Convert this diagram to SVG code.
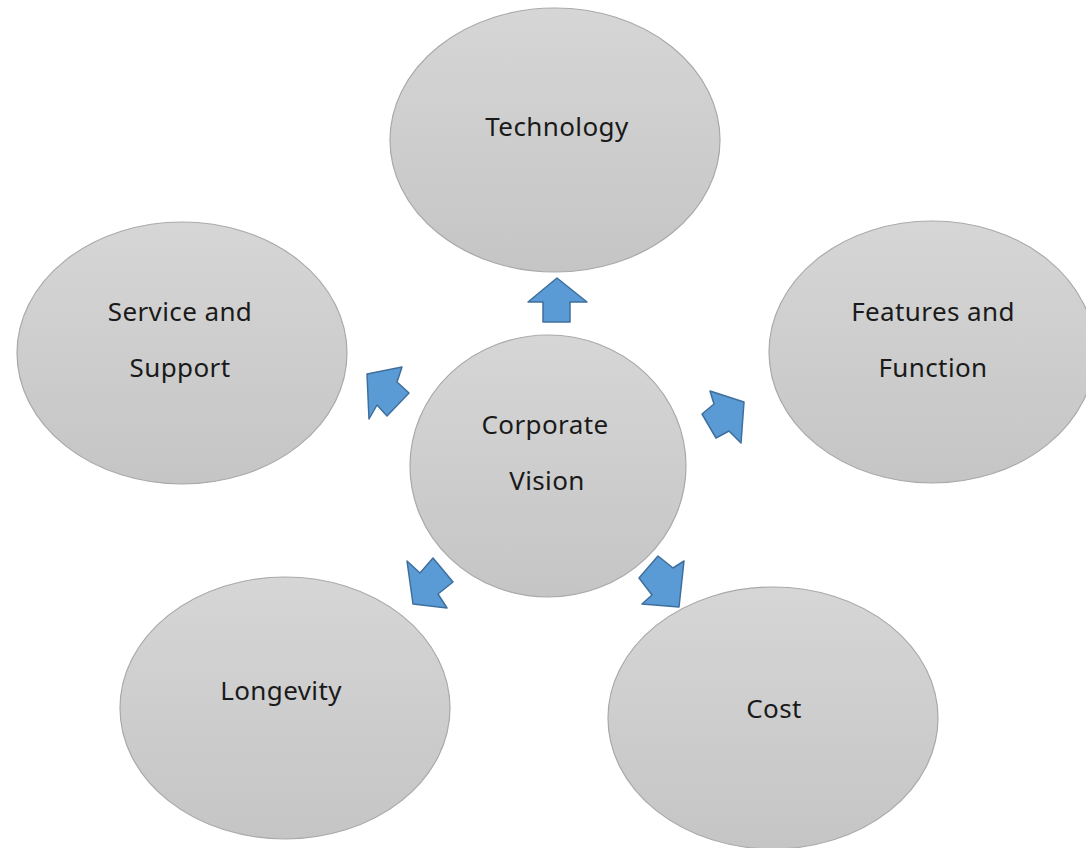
<svg xmlns="http://www.w3.org/2000/svg" width="1086" height="848" viewBox="0 0 1086 848">
<defs>
<linearGradient id="g" x1="0" y1="0" x2="0" y2="1">
<stop offset="0" stop-color="#d6d6d6"/>
<stop offset="1" stop-color="#c5c5c5"/>
</linearGradient>
<style>
.n{fill:url(#g);stroke:#a9a9a9;stroke-width:1.2}
.t{font-family:"Noto Sans","Open Sans",sans-serif;font-size:26px;letter-spacing:0.4px;fill:#1a1a1a;text-anchor:middle}
.a{fill:#5b9bd5;stroke:#3f6f9c;stroke-width:1.5;stroke-linejoin:round}
</style>
</defs>
<rect width="1086" height="848" fill="#ffffff"/>
<g id="technology"><ellipse class="n" cx="555" cy="140" rx="165" ry="132"/><text class="t" x="557" y="136">Technology</text></g>
<g id="service"><ellipse class="n" cx="182" cy="353" rx="165" ry="131"/><text class="t" x="180" y="321">Service and</text><text class="t" x="180" y="377">Support</text></g>
<g id="features"><ellipse class="n" cx="932" cy="352" rx="163" ry="131"/><text class="t" x="933" y="321">Features and</text><text class="t" x="933" y="377">Function</text></g>
<g id="longevity"><ellipse class="n" cx="285" cy="708" rx="165" ry="131"/><text class="t" x="281" y="700">Longevity</text></g>
<g id="cost"><ellipse class="n" cx="773" cy="718" rx="165" ry="131"/><text class="t" x="774" y="718">Cost</text></g>
<g id="vision"><ellipse class="n" cx="548" cy="466" rx="138" ry="131"/><text class="t" x="545" y="434">Corporate</text><text class="t" x="547" y="490">Vision</text></g>
<g id="connectors">
<polygon class="a" points="557,278 587,302 570,302 570,322 543,322 543,302 528,302"/>
<polygon class="a" points="367,374 402,367 397,382 409,393 387,416 377,405 369,419"/>
<polygon class="a" points="744,402 710,391 714,404 702,414 716,438 729,431 741,443"/>
<polygon class="a" points="413,604 407,561 420,573 433,558 453,582 438,594 447,608"/>
<polygon class="a" points="679,607 684,561 673,568 658,556 639,578 652,595 642,604"/>
</g>
</svg>
